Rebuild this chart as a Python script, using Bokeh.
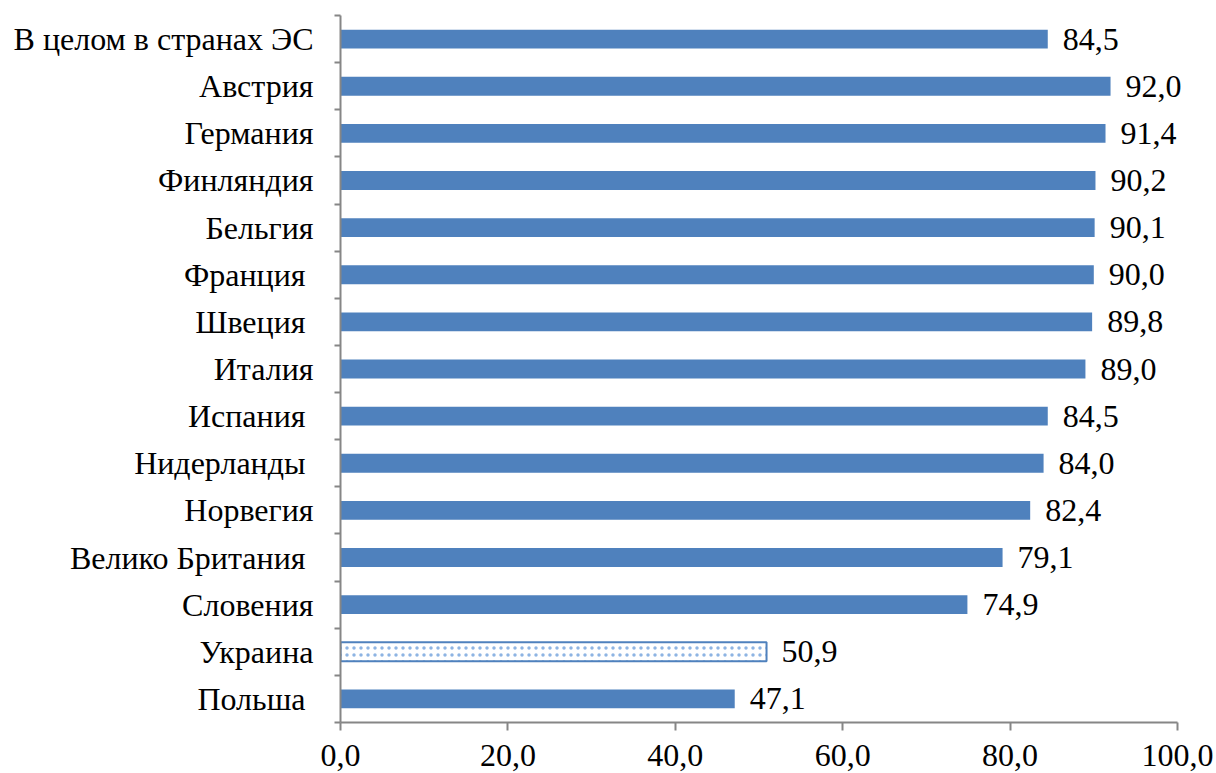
from bokeh.plotting import figure
from bokeh.models import FixedTicker, ColumnDataSource, LabelSet
from bokeh.embed import file_html
from bokeh.resources import INLINE

categories = ["В целом в странах ЭС", "Австрия", "Германия", "Финляндия", "Бельгия",
              "Франция ", "Швеция ", "Италия", "Испания ", "Нидерланды ", "Норвегия",
              "Велико Британия ", "Словения", "Украина", "Польша "]
values = [84.5, 92.0, 91.4, 90.2, 90.1, 90.0, 89.8, 89.0, 84.5, 84.0, 82.4, 79.1, 74.9, 50.9, 47.1]
highlight = "Украина"
x_ticks = [0, 20, 40, 60, 80, 100]

n = len(categories)
ys = [n - 1 - i + 0.5 for i in range(n)]
labels = [f"{v:.1f}".replace(".", ",") for v in values]

FONT = "Times New Roman"
FS = "32px"

# axis spans 0..100 over 837 px; the frame is a bit wider so value labels are not clipped
AXIS_PX = 837
FRAME_PX = 872
x_end = 100 * FRAME_PX / AXIS_PX

p = figure(width=1216, height=773, output_backend="svg", toolbar_location=None,
           x_range=(0, x_end), y_range=(0, n),
           frame_width=FRAME_PX, frame_height=707,
           min_border_left=340, min_border_right=4, min_border_top=15, min_border_bottom=51)
p.outline_line_color = None
p.grid.grid_line_color = None
p.background_fill_color = "white"
p.border_fill_color = "white"

normal = [i for i, c in enumerate(categories) if c != highlight]
hi = [i for i, c in enumerate(categories) if c == highlight]

src_n = ColumnDataSource(dict(y=[ys[i] for i in normal], v=[values[i] for i in normal]))
src_h = ColumnDataSource(dict(y=[ys[i] for i in hi], v=[values[i] for i in hi]))

p.hbar(y="y", right="v", left=0, height=0.4, source=src_n,
       fill_color="#4f81bd", line_color=None)
p.hbar(y="y", right="v", left=0, height=0.4, source=src_h,
       fill_color="white", line_color="#4f81bd", line_width=2,
       hatch_pattern="dot", hatch_color="#8eb4e3", hatch_scale=7, hatch_weight=2)

src_l = ColumnDataSource(dict(x=values, y=ys, t=labels))
p.add_layout(LabelSet(x="x", y="y", text="t", source=src_l, x_offset=15,
                      text_font=FONT, text_font_size=FS, text_baseline="middle",
                      text_color="black"))

xa = p.xaxis[0]
xa.bounds = (0, 100)
xa.ticker = FixedTicker(ticks=x_ticks, minor_ticks=[])
xa.major_label_overrides = {t: f"{t:.1f}".replace(".", ",") for t in x_ticks}
xa.axis_line_color = "#868686"
xa.axis_line_width = 2
xa.major_tick_line_color = "#868686"
xa.major_tick_line_width = 2
xa.major_tick_in = 0
xa.major_tick_out = 8
xa.minor_tick_line_color = None
xa.major_label_text_font = FONT
xa.major_label_text_font_size = FS
xa.major_label_text_color = "black"
xa.major_label_standoff = 14

ya = p.yaxis[0]
ya.ticker = FixedTicker(ticks=ys, minor_ticks=list(range(n + 1)))
ya.major_label_overrides = {y: c for y, c in zip(ys, categories)}
ya.axis_line_color = "#868686"
ya.axis_line_width = 2
ya.major_tick_line_color = None
ya.major_tick_in = 0
ya.major_tick_out = 0
ya.minor_tick_line_color = "#868686"
ya.minor_tick_line_width = 2
ya.minor_tick_in = 0
ya.minor_tick_out = 6
ya.major_label_text_font = FONT
ya.major_label_text_font_size = FS
ya.major_label_text_color = "black"
ya.major_label_standoff = 21

open("out.html", "w").write(file_html(p, INLINE))
